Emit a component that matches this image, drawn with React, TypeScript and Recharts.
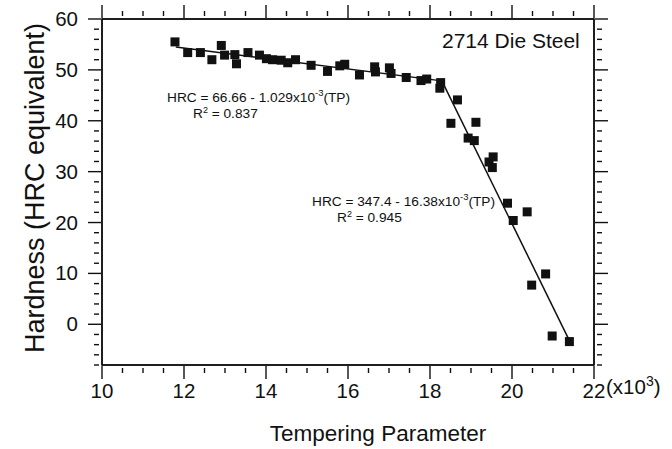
import React from 'react';
import { ScatterChart, Scatter, XAxis, YAxis, ReferenceArea } from 'recharts';

// Tempering parameter (x10^3) and measured hardness (HRC)
const temperingParam = [11.78, 12.09, 12.40, 12.68, 12.91, 12.99, 13.24, 13.28, 13.56, 13.84, 14.01, 14.16, 14.37, 14.53, 14.72, 15.10, 15.50, 15.80, 15.92, 16.28, 16.65, 16.67, 17.01, 17.05, 17.42, 17.78, 17.92, 18.26, 18.24, 18.51, 18.67, 18.93, 19.08, 19.12, 19.44, 19.52, 19.54, 19.89, 20.03, 20.37, 20.48, 20.82, 20.98, 21.40];
const hardness = [55.5, 53.4, 53.4, 52.0, 54.8, 52.9, 53.0, 51.2, 53.4, 52.9, 52.2, 52.0, 51.9, 51.4, 52.0, 50.9, 49.7, 50.8, 51.1, 49.0, 50.6, 49.6, 50.4, 49.3, 48.5, 47.9, 48.2, 47.5, 46.4, 39.5, 44.1, 36.6, 36.1, 39.7, 31.9, 30.8, 32.9, 23.8, 20.4, 22.1, 7.7, 9.9, -2.3, -3.4];

// Regression line end points
const fitLowTP = [11.8, 18.29];
const fitLowHRC = [54.5, 47.84];
const fitHighTP = [18.29, 21.4];
const fitHighHRC = [47.84, -3.2];

// Axis ticks
const xMajorTicks = [10, 12, 14, 16, 18, 20, 22];
const xAllTicks = [10, 10.5, 11, 11.5, 12, 12.5, 13, 13.5, 14, 14.5, 15, 15.5, 16, 16.5, 17, 17.5, 18, 18.5, 19, 19.5, 20, 20.5, 21, 21.5, 22];
const yMajorTicks = [0, 10, 20, 30, 40, 50, 60];
const yAllTicks = [-8, -6, -4, -2, 0, 2, 4, 6, 8, 10, 12, 14, 16, 18, 20, 22, 24, 26, 28, 30, 32, 34, 36, 38, 40, 42, 44, 46, 48, 50, 52, 54, 56, 58, 60];

const points = temperingParam.map((tp, i) => ({ tp, hrc: hardness[i] }));
const fitLow = fitLowTP.map((tp, i) => ({ tp, hrc: fitLowHRC[i] }));
const fitHigh = fitHighTP.map((tp, i) => ({ tp, hrc: fitHighHRC[i] }));

const FONT = '"Liberation Sans", Arial, sans-serif';
const INK = '#111';
const TICK_FONT = 20.5;

const BottomTick = (props: any) => {
  const { x, y, payload } = props;
  const v = payload.value;
  const major = xMajorTicks.includes(v);
  const d = major ? `M${x},${y + 6}L${x},${y - 7}` : `M${x},${y}L${x},${y - 5}`;
  return (
    <g>
      <path d={d} stroke={INK} strokeWidth={1.4} fill="none" />
      {major && (
        <text x={x} y={y + 25} textAnchor="middle" fontSize={TICK_FONT} fontFamily={FONT} fill={INK} stroke="none">{v}</text>
      )}
      {v === 22 && (
        <text x={x + 12} y={y + 21} fontSize={TICK_FONT} fontFamily={FONT} fill={INK} stroke="none">
          (x10<tspan dy={-8} fontSize={14}>3</tspan><tspan dy={8}>)</tspan>
        </text>
      )}
    </g>
  );
};

const TopTick = (props: any) => {
  const { x, y, payload } = props;
  const major = xMajorTicks.includes(payload.value);
  const d = major ? `M${x},${y - 6}L${x},${y + 7}` : `M${x},${y}L${x},${y + 5}`;
  return <path d={d} stroke={INK} strokeWidth={1.4} fill="none" />;
};

const LeftTick = (props: any) => {
  const { x, y, payload } = props;
  const v = payload.value;
  const major = yMajorTicks.includes(v);
  const d = major ? `M${x - 6},${y}L${x + 7},${y}` : `M${x},${y}L${x + 5},${y}`;
  return (
    <g>
      <path d={d} stroke={INK} strokeWidth={1.4} fill="none" />
      {major && (
        <text x={x - 16} y={y + 7} textAnchor="end" fontSize={TICK_FONT} fontFamily={FONT} fill={INK} stroke="none">{v}</text>
      )}
    </g>
  );
};

const RightTick = (props: any) => {
  const { x, y, payload } = props;
  const major = yMajorTicks.includes(payload.value);
  const d = major ? `M${x + 6},${y}L${x - 7},${y}` : `M${x},${y}L${x - 5},${y}`;
  return <path d={d} stroke={INK} strokeWidth={1.4} fill="none" />;
};

const Square = (props: any) => {
  const { cx, cy } = props;
  if (cx == null || cy == null) return <g />;
  return <rect x={cx - 4.5} y={cy - 4.5} width={9} height={9} fill={INK} />;
};

const NoDot = () => <g />;

export default function App() {
  const axisLine = { stroke: INK, strokeWidth: 1.5 };
  return (
    <div style={{ position: 'absolute', left: 0, top: 0, width: 672, height: 449, background: '#fff', fontFamily: FONT }}>
      <ScatterChart width={672} height={449} margin={{ top: 18, right: 77, bottom: 0, left: 0 }}>
        <XAxis type="number" dataKey="tp" domain={[10, 22]} ticks={xAllTicks} interval={0} height={84}
          tickLine={false} axisLine={axisLine} tick={<BottomTick />} allowDataOverflow />
        <XAxis xAxisId="top" orientation="top" type="number" dataKey="tp" domain={[10, 22]} ticks={xAllTicks} interval={0} height={1}
          tickLine={false} axisLine={axisLine} tick={<TopTick />} allowDataOverflow />
        <YAxis type="number" dataKey="hrc" domain={[-8, 60]} ticks={yAllTicks} interval={0} width={102}
          tickLine={false} axisLine={axisLine} tick={<LeftTick />} allowDataOverflow />
        <YAxis yAxisId="right" orientation="right" type="number" dataKey="hrc" domain={[-8, 60]} ticks={yAllTicks} interval={0} width={1}
          tickLine={false} axisLine={axisLine} tick={<RightTick />} allowDataOverflow />
        <ReferenceArea x1={10} x2={22} y1={-8} y2={60} fill="none" fillOpacity={0} stroke={INK} strokeWidth={1.5} ifOverflow="visible" />
        <Scatter data={fitLow} line={{ stroke: INK, strokeWidth: 1.5 }} shape={<NoDot />} isAnimationActive={false} />
        <Scatter data={fitHigh} line={{ stroke: INK, strokeWidth: 1.5 }} shape={<NoDot />} isAnimationActive={false} />
        <Scatter data={points} shape={<Square />} isAnimationActive={false} />
      </ScatterChart>
      <svg width={672} height={449} style={{ position: 'absolute', left: 0, top: 0, pointerEvents: 'none' }}>
        <g fontFamily={FONT} fill={INK}>
          <text x={442} y={48} fontSize={21}>2714 Die Steel</text>
          <text x={167} y={102} fontSize={13.7}>
            HRC = 66.66 - 1.029x10<tspan dy={-6} fontSize={9.5}>-3</tspan><tspan dy={6}>(TP)</tspan>
          </text>
          <text x={193} y={118} fontSize={13.7}>
            R<tspan dy={-5} fontSize={9}>2</tspan><tspan dy={5}> = 0.837</tspan>
          </text>
          <text x={312} y={206} fontSize={13.7}>
            HRC = 347.4 - 16.38x10<tspan dy={-6} fontSize={9.5}>-3</tspan><tspan dy={6}>(TP)</tspan>
          </text>
          <text x={337} y={222} fontSize={13.7}>
            R<tspan dy={-5} fontSize={9}>2</tspan><tspan dy={5}> = 0.945</tspan>
          </text>
          <text x={378} y={441} fontSize={22.5} textAnchor="middle">Tempering Parameter</text>
          <text x={44} y={188} fontSize={27} textAnchor="middle" transform="rotate(-90 44 188)">Hardness (HRC equivalent)</text>
        </g>
      </svg>
    </div>
  );
}
